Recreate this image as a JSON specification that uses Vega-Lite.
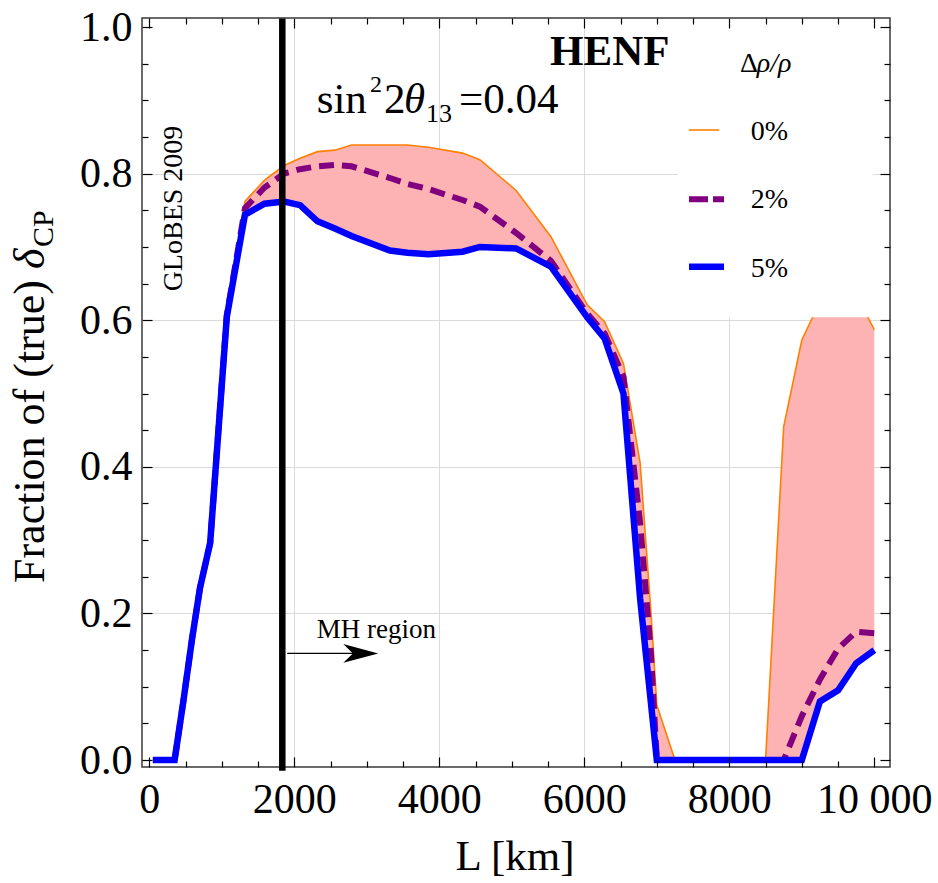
{
  "$schema": "https://vega.github.io/schema/vega-lite/v6.json",
  "width": 748,
  "height": 749,
  "autosize": {"type": "none"},
  "padding": {"left": 142, "top": 18, "right": 48, "bottom": 116},
  "background": "white",
  "config": {
    "view": {"stroke": "#3a3a3a", "strokeWidth": 1.5},
    "axis": {"domain": false, "grid": false, "labelFont": "Liberation Serif", "labelFontSize": 42, "labelColor": "black", "tickColor": "black", "tickWidth": 1.2, "labelFlush": false, "labelOverlap": false, "labelBound": false}
  },
  "datasets": {
    "curves": [
      {"L": 50, "p0": 0, "p2": 0, "p5": 0},
      {"L": 350, "p0": 0, "p2": 0, "p5": 0},
      {"L": 470, "p0": 0.08, "p2": 0.08, "p5": 0.08},
      {"L": 590, "p0": 0.165, "p2": 0.165, "p5": 0.165},
      {"L": 700, "p0": 0.235, "p2": 0.235, "p5": 0.235},
      {"L": 840, "p0": 0.296, "p2": 0.296, "p5": 0.296},
      {"L": 1070, "p0": 0.61, "p2": 0.607, "p5": 0.605},
      {"L": 1320, "p0": 0.762, "p2": 0.753, "p5": 0.744},
      {"L": 1590, "p0": 0.791, "p2": 0.781, "p5": 0.759},
      {"L": 1860, "p0": 0.811, "p2": 0.8, "p5": 0.762},
      {"L": 2080, "p0": 0.821, "p2": 0.806, "p5": 0.757},
      {"L": 2320, "p0": 0.83, "p2": 0.81, "p5": 0.735},
      {"L": 2560, "p0": 0.832, "p2": 0.812, "p5": 0.725},
      {"L": 2790, "p0": 0.839, "p2": 0.81, "p5": 0.715},
      {"L": 3320, "p0": 0.839, "p2": 0.794, "p5": 0.695},
      {"L": 3560, "p0": 0.839, "p2": 0.786, "p5": 0.692},
      {"L": 3850, "p0": 0.836, "p2": 0.779, "p5": 0.69},
      {"L": 4320, "p0": 0.828, "p2": 0.764, "p5": 0.6935},
      {"L": 4560, "p0": 0.819, "p2": 0.755, "p5": 0.7},
      {"L": 5060, "p0": 0.777, "p2": 0.719, "p5": 0.698},
      {"L": 5540, "p0": 0.714, "p2": 0.681, "p5": 0.673},
      {"L": 6040, "p0": 0.621, "p2": 0.609, "p5": 0.604},
      {"L": 6280, "p0": 0.598, "p2": 0.582, "p5": 0.575},
      {"L": 6540, "p0": 0.541, "p2": 0.523, "p5": 0.5},
      {"L": 6770, "p0": 0.405, "p2": 0.323, "p5": 0.22},
      {"L": 6920, "p0": 0.2, "p2": 0.145, "p5": 0.077},
      {"L": 7000, "p0": 0.075, "p2": 0, "p5": 0},
      {"L": 7250, "p0": 0, "p2": 0, "p5": 0},
      {"L": 8500, "p0": 0, "p2": 0, "p5": 0},
      {"L": 8750, "p0": 0.455, "p2": 0, "p5": 0},
      {"L": 9000, "p0": 0.573, "p2": 0.06, "p5": 0},
      {"L": 9250, "p0": 0.625, "p2": 0.11, "p5": 0.08},
      {"L": 9500, "p0": 0.64, "p2": 0.152, "p5": 0.095},
      {"L": 9750, "p0": 0.635, "p2": 0.175, "p5": 0.132},
      {"L": 10000, "p0": 0.587, "p2": 0.173, "p5": 0.15}
    ]
  },
  "resolve": {"axis": {"x": "independent", "y": "independent"}},
  "layer": [
    {
      "data": {"name": "curves"},
      "mark": {"type": "area", "color": "#FDB3B3", "opacity": 1},
      "encoding": {
        "x": {"field": "L", "type": "quantitative", "scale": {"domain": [-100, 10216], "nice": false, "zero": false},
              "axis": {"orient": "bottom", "values": [0, 2000, 4000, 6000, 8000, 10000], "ticks": false, "labelPadding": 12, "title": null, "zindex": 1, "labelExpr": "datum.value == 10000 ? '10 000' : format(datum.value, 'd')"}},
        "y": {"field": "p0", "type": "quantitative", "scale": {"domain": [-0.0095, 1.0123], "nice": false, "zero": false},
              "axis": {"orient": "left", "values": [0, 0.2, 0.4, 0.6, 0.8, 1], "ticks": false, "labelPadding": 10, "format": ".1f", "title": null, "zindex": 1}},
        "y2": {"field": "p5"}
      }
    },
    {
      "data": {"name": "curves"},
      "mark": {"type": "line", "color": "#FF8000", "strokeWidth": 1.6},
      "encoding": {
        "x": {"field": "L", "type": "quantitative", "scale": {"domain": [-100, 10216], "nice": false, "zero": false},
              "axis": {"orient": "bottom", "values": [0, 2000, 4000, 6000, 8000, 10000], "labels": false, "tickSize": -10, "title": null, "zindex": 1}},
        "y": {"field": "p0", "type": "quantitative", "scale": {"domain": [-0.0095, 1.0123], "nice": false, "zero": false},
              "axis": {"orient": "left", "values": [0, 0.2, 0.4, 0.6, 0.8, 1], "labels": false, "tickSize": -10, "title": null, "zindex": 1}}
      }
    },
    {
      "data": {"name": "curves"},
      "mark": {"type": "line", "color": "#800080", "strokeWidth": 6, "strokeDash": [15, 8], "strokeCap": "butt"},
      "encoding": {
        "x": {"field": "L", "type": "quantitative", "scale": {"domain": [-100, 10216], "nice": false, "zero": false},
              "axis": {"orient": "bottom", "values": [500, 1000, 1500, 2500, 3000, 3500, 4500, 5000, 5500, 6500, 7000, 7500, 8500, 9000, 9500], "labels": false, "tickSize": -6, "title": null, "zindex": 1}},
        "y": {"field": "p2", "type": "quantitative", "scale": {"domain": [-0.0095, 1.0123], "nice": false, "zero": false},
              "axis": {"orient": "left", "values": [0.05, 0.1, 0.15, 0.25, 0.3, 0.35, 0.45, 0.5, 0.55, 0.65, 0.7, 0.75, 0.85, 0.9, 0.95], "labels": false, "tickSize": -6, "title": null, "zindex": 1}}
      }
    },
    {
      "data": {"name": "curves"},
      "mark": {"type": "line", "color": "#0000FF", "strokeWidth": 6.5},
      "encoding": {
        "x": {"field": "L", "type": "quantitative", "scale": {"domain": [-100, 10216], "nice": false, "zero": false},
              "axis": {"orient": "top", "values": [0, 2000, 4000, 6000, 8000, 10000], "labels": false, "tickSize": -10, "title": null, "zindex": 1}},
        "y": {"field": "p5", "type": "quantitative", "scale": {"domain": [-0.0095, 1.0123], "nice": false, "zero": false},
              "axis": {"orient": "right", "values": [0, 0.2, 0.4, 0.6, 0.8, 1], "labels": false, "tickSize": -10, "title": null, "zindex": 1}}
      }
    },
    {
      "data": {"values": [{"x1": 7292, "x2": 9982, "y1": 0.604, "y2": 1.0105}]},
      "mark": {"type": "rect", "color": "white", "opacity": 1},
      "encoding": {
        "x": {"field": "x1", "type": "quantitative", "scale": {"domain": [-100, 10216], "nice": false, "zero": false},
              "axis": {"orient": "top", "values": [500, 1000, 1500, 2500, 3000, 3500, 4500, 5000, 5500, 6500, 7000, 7500, 8500, 9000, 9500], "labels": false, "tickSize": -6, "title": null, "zindex": 1}},
        "x2": {"field": "x2"},
        "y": {"field": "y1", "type": "quantitative", "scale": {"domain": [-0.0095, 1.0123], "nice": false, "zero": false},
              "axis": {"orient": "right", "values": [0.05, 0.1, 0.15, 0.25, 0.3, 0.35, 0.45, 0.5, 0.55, 0.65, 0.7, 0.75, 0.85, 0.9, 0.95], "labels": false, "tickSize": -6, "title": null, "zindex": 1}},
        "y2": {"field": "y2"}
      }
    },
    {
      "data": {"values": [{"x": 1835, "y1": -0.0146, "y2": 1.0115}]},
      "mark": {"type": "rule", "color": "black", "strokeWidth": 6.5},
      "encoding": {
        "x": {"field": "x", "type": "quantitative", "scale": {"domain": [-100, 10216], "nice": false, "zero": false},
              "axis": {"orient": "bottom", "values": [2000, 4000, 6000, 8000], "grid": true, "ticks": false, "labels": false, "gridColor": "#dadada", "gridWidth": 1, "title": null, "zindex": 0}},
        "y": {"field": "y1", "type": "quantitative", "scale": {"domain": [-0.0095, 1.0123], "nice": false, "zero": false},
              "axis": {"orient": "left", "values": [0.2, 0.4, 0.6, 0.8], "grid": true, "ticks": false, "labels": false, "gridColor": "#dadada", "gridWidth": 1, "title": null, "zindex": 0}},
        "y2": {"field": "y2"}
      }
    },
    {
      "data": {"values": [{"x1": 1903, "x2": 2917, "y": 0.1455}]},
      "mark": {"type": "rule", "color": "black", "strokeWidth": 1.3},
      "encoding": {
        "x": {"field": "x1", "type": "quantitative", "scale": {"domain": [-100, 10216], "nice": false, "zero": false}, "axis": null},
        "x2": {"field": "x2"},
        "y": {"field": "y", "type": "quantitative", "scale": {"domain": [-0.0095, 1.0123], "nice": false, "zero": false}, "axis": null}
      }
    },
    {
      "data": {"values": [{"x": 2917, "y": 0.1455}]},
      "mark": {"type": "point", "shape": "M -1 -0.534 L 1 0 L -1 0.534 L -0.45 0 Z", "size": 1225, "filled": true, "color": "black", "opacity": 1, "strokeWidth": 0},
      "encoding": {
        "x": {"field": "x", "type": "quantitative", "scale": {"domain": [-100, 10216], "nice": false, "zero": false}, "axis": null},
        "y": {"field": "y", "type": "quantitative", "scale": {"domain": [-0.0095, 1.0123], "nice": false, "zero": false}, "axis": null}
      }
    },
    {
      "data": {"values": [{"x1": 7444, "x2": 7858, "y": 0.8595}]},
      "mark": {"type": "rule", "color": "#FF8000", "strokeWidth": 1.6},
      "encoding": {
        "x": {"field": "x1", "type": "quantitative", "scale": {"domain": [-100, 10216], "nice": false, "zero": false}, "axis": null},
        "x2": {"field": "x2"},
        "y": {"field": "y", "type": "quantitative", "scale": {"domain": [-0.0095, 1.0123], "nice": false, "zero": false}, "axis": null}
      }
    },
    {
      "data": {"values": [{"x1": 7444, "x2": 7927, "y": 0.765}]},
      "mark": {"type": "rule", "color": "#800080", "strokeWidth": 6, "strokeDash": [19, 5], "strokeCap": "butt"},
      "encoding": {
        "x": {"field": "x1", "type": "quantitative", "scale": {"domain": [-100, 10216], "nice": false, "zero": false}, "axis": null},
        "x2": {"field": "x2"},
        "y": {"field": "y", "type": "quantitative", "scale": {"domain": [-0.0095, 1.0123], "nice": false, "zero": false}, "axis": null}
      }
    },
    {
      "data": {"values": [{"x1": 7444, "x2": 7927, "y": 0.673}]},
      "mark": {"type": "rule", "color": "#0000FF", "strokeWidth": 6.5, "strokeCap": "butt"},
      "encoding": {
        "x": {"field": "x1", "type": "quantitative", "scale": {"domain": [-100, 10216], "nice": false, "zero": false}, "axis": null},
        "x2": {"field": "x2"},
        "y": {"field": "y", "type": "quantitative", "scale": {"domain": [-0.0095, 1.0123], "nice": false, "zero": false}, "axis": null}
      }
    },
    {
      "data": {"values": [{"x": 2309, "y": 0.8827, "t": "sin"}, {"x": 3237, "y": 0.8827, "t": "2"}, {"x": 4272, "y": 0.8827, "t": "=0.04"}]},
      "mark": {"type": "text", "font": "Liberation Serif", "fontSize": 43, "align": "left", "baseline": "alphabetic", "color": "black"},
      "encoding": {
        "x": {"field": "x", "type": "quantitative", "scale": {"domain": [-100, 10216], "nice": false, "zero": false}, "axis": null},
        "y": {"field": "y", "type": "quantitative", "scale": {"domain": [-0.0095, 1.0123], "nice": false, "zero": false}, "axis": null},
        "text": {"field": "t"}
      }
    },
    {
      "data": {"values": [{"x": 3044, "y": 0.9113, "t": "2"}]},
      "mark": {"type": "text", "font": "Liberation Serif", "fontSize": 24, "align": "left", "baseline": "alphabetic", "color": "black"},
      "encoding": {
        "x": {"field": "x", "type": "quantitative", "scale": {"domain": [-100, 10216], "nice": false, "zero": false}, "axis": null},
        "y": {"field": "y", "type": "quantitative", "scale": {"domain": [-0.0095, 1.0123], "nice": false, "zero": false}, "axis": null},
        "text": {"field": "t"}
      }
    },
    {
      "data": {"values": [{"x": 3816, "y": 0.8708, "t": "13"}]},
      "mark": {"type": "text", "font": "Liberation Serif", "fontSize": 26, "align": "left", "baseline": "alphabetic", "color": "black"},
      "encoding": {
        "x": {"field": "x", "type": "quantitative", "scale": {"domain": [-100, 10216], "nice": false, "zero": false}, "axis": null},
        "y": {"field": "y", "type": "quantitative", "scale": {"domain": [-0.0095, 1.0123], "nice": false, "zero": false}, "axis": null},
        "text": {"field": "t"}
      }
    },
    {
      "data": {"values": [{"x": 3513, "y": 0.8827, "t": "θ"}]},
      "mark": {"type": "text", "font": "Liberation Serif", "fontSize": 43, "fontStyle": "italic", "align": "left", "baseline": "alphabetic", "color": "black"},
      "encoding": {
        "x": {"field": "x", "type": "quantitative", "scale": {"domain": [-100, 10216], "nice": false, "zero": false}, "axis": null},
        "y": {"field": "y", "type": "quantitative", "scale": {"domain": [-0.0095, 1.0123], "nice": false, "zero": false}, "axis": null},
        "text": {"field": "t"}
      }
    },
    {
      "data": {"values": [{"x": 5527, "y": 0.948, "t": "HENF"}]},
      "mark": {"type": "text", "font": "Liberation Serif", "fontSize": 43, "fontWeight": "bold", "align": "left", "baseline": "alphabetic", "color": "black"},
      "encoding": {
        "x": {"field": "x", "type": "quantitative", "scale": {"domain": [-100, 10216], "nice": false, "zero": false}, "axis": null},
        "y": {"field": "y", "type": "quantitative", "scale": {"domain": [-0.0095, 1.0123], "nice": false, "zero": false}, "axis": null},
        "text": {"field": "t"}
      }
    },
    {
      "data": {"values": [{"x": 8147, "y": 0.939, "t": "Δ"}, {"x": 8295, "y": 0.8458, "t": "0%"}, {"x": 8295, "y": 0.7527, "t": "2%"}, {"x": 8295, "y": 0.6594, "t": "5%"}]},
      "mark": {"type": "text", "font": "Liberation Serif", "fontSize": 28, "align": "left", "baseline": "alphabetic", "color": "black"},
      "encoding": {
        "x": {"field": "x", "type": "quantitative", "scale": {"domain": [-100, 10216], "nice": false, "zero": false}, "axis": null},
        "y": {"field": "y", "type": "quantitative", "scale": {"domain": [-0.0095, 1.0123], "nice": false, "zero": false}, "axis": null},
        "text": {"field": "t"}
      }
    },
    {
      "data": {"values": [{"x": 8378, "y": 0.939, "t": "ρ/ρ"}]},
      "mark": {"type": "text", "font": "Liberation Serif", "fontSize": 28, "fontStyle": "italic", "align": "left", "baseline": "alphabetic", "color": "black"},
      "encoding": {
        "x": {"field": "x", "type": "quantitative", "scale": {"domain": [-100, 10216], "nice": false, "zero": false}, "axis": null},
        "y": {"field": "y", "type": "quantitative", "scale": {"domain": [-0.0095, 1.0123], "nice": false, "zero": false}, "axis": null},
        "text": {"field": "t"}
      }
    },
    {
      "data": {"values": [{"x": 451, "y": 0.7524, "t": "GLoBES 2009"}]},
      "mark": {"type": "text", "font": "Liberation Serif", "fontSize": 28, "angle": 270, "align": "center", "baseline": "alphabetic", "color": "black"},
      "encoding": {
        "x": {"field": "x", "type": "quantitative", "scale": {"domain": [-100, 10216], "nice": false, "zero": false}, "axis": null},
        "y": {"field": "y", "type": "quantitative", "scale": {"domain": [-0.0095, 1.0123], "nice": false, "zero": false}, "axis": null},
        "text": {"field": "t"}
      }
    },
    {
      "data": {"values": [{"x": 2309, "y": 0.166, "t": "MH region"}]},
      "mark": {"type": "text", "font": "Liberation Serif", "fontSize": 27, "align": "left", "baseline": "alphabetic", "color": "black"},
      "encoding": {
        "x": {"field": "x", "type": "quantitative", "scale": {"domain": [-100, 10216], "nice": false, "zero": false}, "axis": null},
        "y": {"field": "y", "type": "quantitative", "scale": {"domain": [-0.0095, 1.0123], "nice": false, "zero": false}, "axis": null},
        "text": {"field": "t"}
      }
    },
    {
      "data": {"values": [{"x": -1452, "y": 0.2415, "t": "Fraction of (true)"}]},
      "mark": {"type": "text", "font": "Liberation Serif", "fontSize": 44, "angle": 270, "align": "left", "baseline": "alphabetic", "color": "black"},
      "encoding": {
        "x": {"field": "x", "type": "quantitative", "scale": {"domain": [-100, 10216], "nice": false, "zero": false}, "axis": null},
        "y": {"field": "y", "type": "quantitative", "scale": {"domain": [-0.0095, 1.0123], "nice": false, "zero": false}, "axis": null},
        "text": {"field": "t"}
      }
    },
    {
      "data": {"values": [{"x": -1452, "y": 0.67, "t": "δ"}]},
      "mark": {"type": "text", "font": "Liberation Serif", "fontSize": 44, "fontStyle": "italic", "angle": 270, "align": "left", "baseline": "alphabetic", "color": "black"},
      "encoding": {
        "x": {"field": "x", "type": "quantitative", "scale": {"domain": [-100, 10216], "nice": false, "zero": false}, "axis": null},
        "y": {"field": "y", "type": "quantitative", "scale": {"domain": [-0.0095, 1.0123], "nice": false, "zero": false}, "axis": null},
        "text": {"field": "t"}
      }
    },
    {
      "data": {"values": [{"x": -1328, "y": 0.6999, "t": "CP"}]},
      "mark": {"type": "text", "font": "Liberation Serif", "fontSize": 30, "angle": 270, "align": "left", "baseline": "alphabetic", "color": "black"},
      "encoding": {
        "x": {"field": "x", "type": "quantitative", "scale": {"domain": [-100, 10216], "nice": false, "zero": false}, "axis": null},
        "y": {"field": "y", "type": "quantitative", "scale": {"domain": [-0.0095, 1.0123], "nice": false, "zero": false}, "axis": null},
        "text": {"field": "t"}
      }
    },
    {
      "data": {"values": [{"x": 5044, "y": -0.15, "t": "L [km]"}]},
      "mark": {"type": "text", "font": "Liberation Serif", "fontSize": 43, "align": "center", "baseline": "alphabetic", "color": "black"},
      "encoding": {
        "x": {"field": "x", "type": "quantitative", "scale": {"domain": [-100, 10216], "nice": false, "zero": false}, "axis": null},
        "y": {"field": "y", "type": "quantitative", "scale": {"domain": [-0.0095, 1.0123], "nice": false, "zero": false}, "axis": null},
        "text": {"field": "t"}
      }
    }
  ]
}
